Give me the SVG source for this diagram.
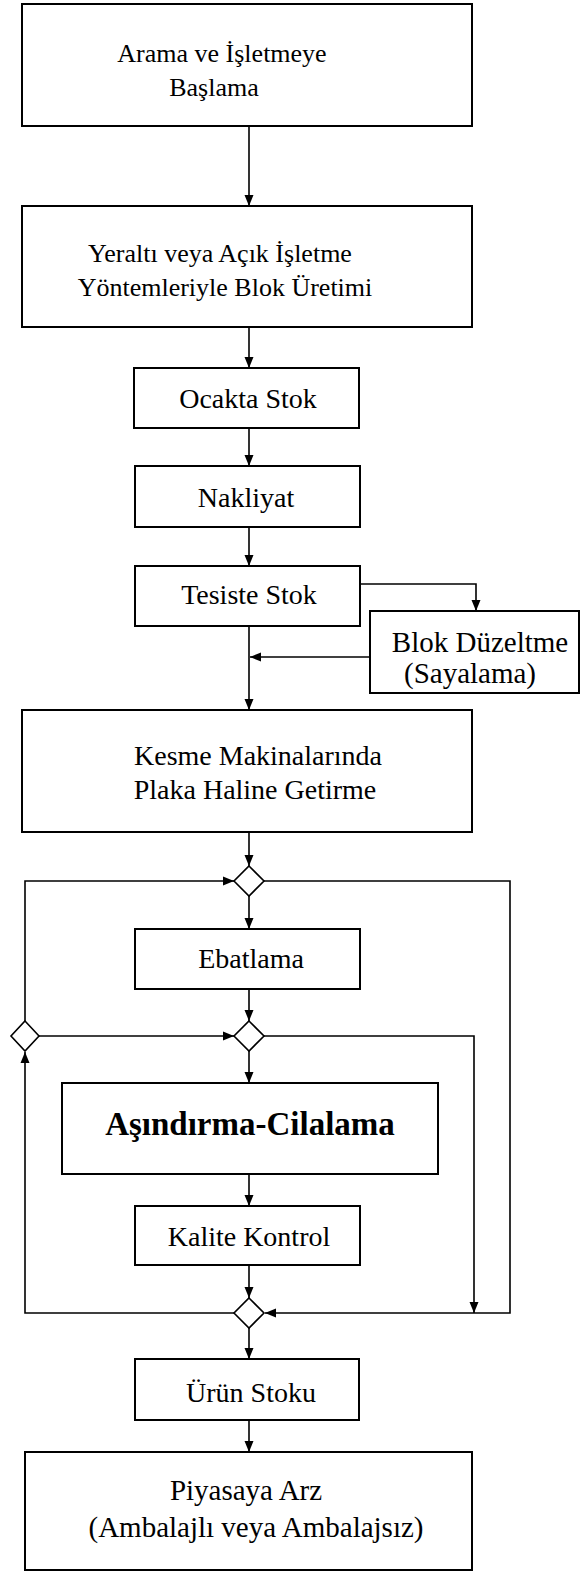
<svg xmlns="http://www.w3.org/2000/svg" width="582" height="1572" viewBox="0 0 582 1572">
<style>
.box{fill:#fff;stroke:#000;stroke-width:2}
.dia{fill:#fff;stroke:#000;stroke-width:1.6}
.t{font-family:"Liberation Serif","Times New Roman",serif;font-size:28px;fill:#000;text-anchor:middle}
.s{font-size:26px}
.l{font-size:29px}
.b{font-weight:bold;font-size:33px}
.c{fill:none;stroke:#000;stroke-width:1.6}
</style>
<defs>
<marker id="ah" markerUnits="userSpaceOnUse" markerWidth="12" markerHeight="10" refX="11" refY="5" orient="auto">
<path d="M0,0.5 L11,5 L0,9.5 z" fill="#000"/>
</marker>
</defs>
<rect width="582" height="1572" fill="#fff"/>
<g id="connectors">
<path class="c" d="M249,126 V206" marker-end="url(#ah)"/>
<path class="c" d="M249,327 V368" marker-end="url(#ah)"/>
<path class="c" d="M249,428 V466" marker-end="url(#ah)"/>
<path class="c" d="M249,527 V566" marker-end="url(#ah)"/>
<path class="c" d="M360,584 H476 V611" marker-end="url(#ah)"/>
<path class="c" d="M370,657 H250" marker-end="url(#ah)"/>
<path class="c" d="M249,626 V710" marker-end="url(#ah)"/>
<path class="c" d="M249,832 V866" marker-end="url(#ah)"/>
<path class="c" d="M25,1021 V881 H234" marker-end="url(#ah)"/>
<path class="c" d="M264,881 H510 V1313 H265" marker-end="url(#ah)"/>
<path class="c" d="M249,896 V929" marker-end="url(#ah)"/>
<path class="c" d="M249,989 V1021" marker-end="url(#ah)"/>
<path class="c" d="M39,1036 H234" marker-end="url(#ah)"/>
<path class="c" d="M264,1036 H474 V1313" marker-end="url(#ah)"/>
<path class="c" d="M249,1051 V1083" marker-end="url(#ah)"/>
<path class="c" d="M249,1174 V1206" marker-end="url(#ah)"/>
<path class="c" d="M249,1265 V1298" marker-end="url(#ah)"/>
<path class="c" d="M234,1313 H25 V1052" marker-end="url(#ah)"/>
<path class="c" d="M249,1328 V1359" marker-end="url(#ah)"/>
<path class="c" d="M249,1420 V1452" marker-end="url(#ah)"/>
</g>
<g id="n1"><rect class="box" x="22" y="4" width="450" height="122"/>
<text class="t s" x="222" y="62">Arama ve İşletmeye</text><text class="t s" x="214" y="96">Başlama</text></g>
<g id="n2"><rect class="box" x="22" y="206" width="450" height="121"/>
<text class="t s" x="220" y="262">Yeraltı veya Açık İşletme</text><text class="t s" x="225" y="296">Yöntemleriyle Blok Üretimi</text></g>
<g id="n3"><rect class="box" x="134" y="368" width="225" height="60"/>
<text class="t" x="248" y="408">Ocakta Stok</text></g>
<g id="n4"><rect class="box" x="135" y="466" width="225" height="61"/>
<text class="t" x="246" y="507">Nakliyat</text></g>
<g id="n5"><rect class="box" x="135" y="566" width="225" height="60"/>
<text class="t" x="249" y="604">Tesiste Stok</text></g>
<g id="n6"><rect class="box" x="370" y="611" width="209" height="82"/>
<text class="t l" x="480" y="652">Blok Düzeltme</text><text class="t l" x="470" y="683">(Sayalama)</text></g>
<g id="n7"><rect class="box" x="22" y="710" width="450" height="122"/>
<text class="t" x="258" y="765">Kesme Makinalarında</text><text class="t" x="255" y="799">Plaka Haline Getirme</text></g>
<g id="d1"><path class="dia" d="M249,866 L264,881 L249,896 L234,881 z"/></g>
<g id="n8"><rect class="box" x="135" y="929" width="225" height="60"/>
<text class="t" x="251" y="968">Ebatlama</text></g>
<g id="d2"><path class="dia" d="M249,1021 L264,1036 L249,1051 L234,1036 z"/></g>
<g id="d4"><path class="dia" d="M25,1021 L39,1036 L25,1051 L11,1036 z"/></g>
<g id="n9"><rect class="box" x="62" y="1083" width="376" height="91"/>
<text class="t b" x="250" y="1135">Aşındırma-Cilalama</text></g>
<g id="n10"><rect class="box" x="135" y="1206" width="225" height="59"/>
<text class="t" x="249" y="1246">Kalite Kontrol</text></g>
<g id="d3"><path class="dia" d="M249,1298 L264,1313 L249,1328 L234,1313 z"/></g>
<g id="n11"><rect class="box" x="135" y="1359" width="224" height="61"/>
<text class="t" x="251" y="1402">Ürün Stoku</text></g>
<g id="n12"><rect class="box" x="25" y="1452" width="447" height="118"/>
<text class="t l" x="246" y="1500">Piyasaya Arz</text><text class="t l" x="256" y="1537">(Ambalajlı veya Ambalajsız)</text></g>
</svg>
